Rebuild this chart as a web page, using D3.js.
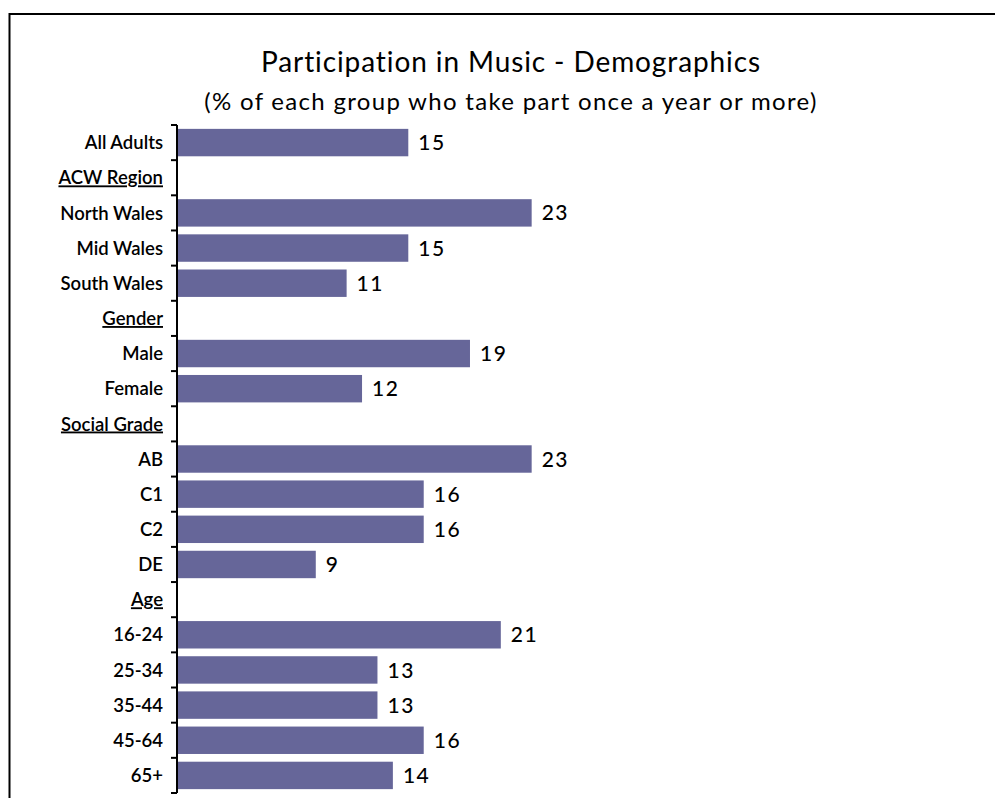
<!DOCTYPE html>
<html>
<head>
<meta charset="utf-8">
<script src="https://cdn.jsdelivr.net/npm/d3@7/dist/d3.min.js"></script>
<style>
  html, body { margin: 0; padding: 0; background: #fff; }
  svg { display: block; }
  text { font-family: "Lato", "Noto Sans", sans-serif; fill: #000; }
</style>
</head>
<body>
<svg id="chart" width="995" height="798"></svg>
<script>
// Participation in music, % of each group taking part once a year or more
const categories = [
  "All Adults", "ACW Region", "North Wales", "Mid Wales", "South Wales",
  "Gender", "Male", "Female", "Social Grade", "AB", "C1", "C2", "DE",
  "Age", "16-24", "25-34", "35-44", "45-64", "65+"
];
// Section headings carry no value (null) and are underlined
const headings = ["ACW Region", "Gender", "Social Grade", "Age"];
const values = [
  15, null, 23, 15, 11,
  null, 19, 12, null, 23, 16, 16, 9,
  null, 21, 13, 13, 16, 14
];
const titleText = "Participation in Music - Demographics";
const subtitleText = "(% of each group who take part once a year or more)";

const svg = d3.select("#chart");
const barColor = "#666699";

// Frame around the chart area (runs off the right and bottom edges)
svg.append("rect")
  .attr("x", 9.5).attr("y", 14)
  .attr("width", 1000).attr("height", 800)
  .attr("fill", "none").attr("stroke", "#000").attr("stroke-width", 2);

// Titles
svg.append("text")
  .attr("x", 511).attr("y", 72)
  .attr("text-anchor", "middle")
  .style("font-size", "28px")
  .style("letter-spacing", "0.9px")
  .text(titleText);
svg.append("text")
  .attr("x", 511).attr("y", 110)
  .attr("text-anchor", "middle")
  .style("font-size", "24px")
  .style("letter-spacing", "1.3px")
  .text(subtitleText);

// Scales
const x = d3.scaleLinear().domain([0, 50]).range([177, 948]);
const y = d3.scaleBand()
  .domain(categories)
  .range([125, 793])
  .paddingInner(0.22)
  .paddingOuter(0.11);

const data = categories.map((c, i) => ({ cat: c, value: values[i] }));
const step = y.step();
const bandTop = c => y(c) - step * y.paddingOuter();

// Bars
svg.append("g").selectAll("rect")
  .data(data.filter(d => d.value !== null))
  .join("rect")
  .attr("x", x(0))
  .attr("y", d => y(d.cat))
  .attr("width", d => x(d.value) - x(0))
  .attr("height", y.bandwidth())
  .attr("fill", barColor);

// Value labels
svg.append("g").selectAll("text")
  .data(data.filter(d => d.value !== null))
  .join("text")
  .attr("x", d => x(d.value) + 10)
  .attr("y", d => y(d.cat) + y.bandwidth() / 2)
  .attr("dy", "0.36em")
  .style("font-size", "21px")
  .style("font-weight", "500")
  .style("letter-spacing", "1.5px")
  .text(d => d.value);

// Category axis: vertical line with outward ticks between categories
const axis = svg.append("g");
axis.append("line")
  .attr("x1", x(0)).attr("x2", x(0))
  .attr("y1", y.range()[0]).attr("y2", y.range()[1])
  .attr("stroke", "#000").attr("stroke-width", 2);
const tickYs = categories.map(c => bandTop(c)).concat([y.range()[1]]);
axis.selectAll("line.tick")
  .data(tickYs)
  .join("line")
  .attr("class", "tick")
  .attr("x1", x(0) - 6).attr("x2", x(0))
  .attr("y1", d => d).attr("y2", d => d)
  .attr("stroke", "#000").attr("stroke-width", 2);

// Category labels (section headings underlined)
axis.selectAll("text")
  .data(data)
  .join("text")
  .attr("x", 163)
  .attr("y", d => y(d.cat) + y.bandwidth() / 2)
  .attr("dy", "0.36em")
  .attr("text-anchor", "end")
  .style("font-size", "18.5px")
  .style("font-weight", "600")
  .style("text-decoration", d => headings.includes(d.cat) ? "underline" : "none")
  .text(d => d.cat);
</script>
</body>
</html>
